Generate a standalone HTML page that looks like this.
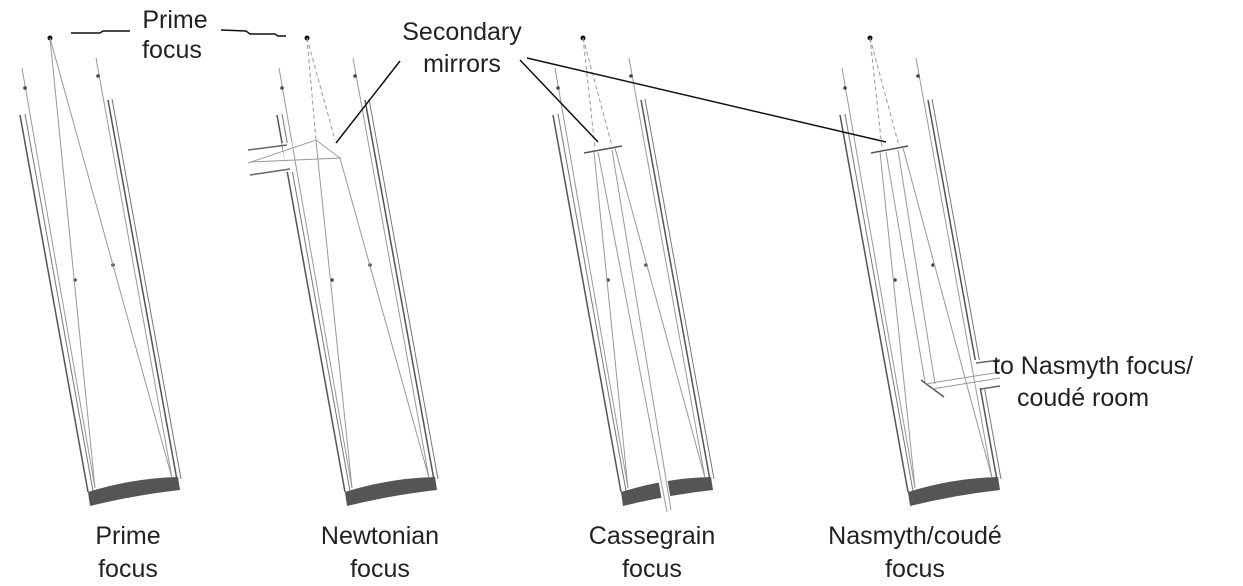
<!DOCTYPE html>
<html><head><meta charset="utf-8"><style>
html,body{margin:0;padding:0;background:#fff}
svg{display:block}
text{font-family:"Liberation Sans",sans-serif;font-size:25px;fill:#222}
</style></head><body>
<svg width="1243" height="586" viewBox="0 0 1243 586">
<defs>
<g id="tube">
  <line x1="20" y1="115" x2="88" y2="492" stroke="#555" stroke-width="1.5"/>
  <line x1="25" y1="114" x2="93" y2="491" stroke="#777" stroke-width="1"/>
  <line x1="108" y1="100" x2="177" y2="480" stroke="#555" stroke-width="1.5"/>
  <line x1="112" y1="99" x2="181" y2="479" stroke="#777" stroke-width="1"/>
  <line x1="22" y1="68" x2="95" y2="488" stroke="#999" stroke-width="1"/>
  <line x1="96" y1="58" x2="172" y2="478" stroke="#999" stroke-width="1"/>
  <circle cx="25" cy="88" r="1.8" fill="#444"/><circle cx="75" cy="280" r="1.8" fill="#444"/>
  <circle cx="98" cy="76" r="1.8" fill="#444"/><circle cx="113" cy="265" r="1.8" fill="#444"/>
  <path d="M88,492 Q133,478 178,477 L180,490 Q135,495 90,506 Z" fill="#555"/>
</g>
</defs>

<g>
  <use href="#tube"/>
  <circle cx="50" cy="38" r="2.5" fill="#111"/>
  <line x1="50" y1="38" x2="95" y2="488" stroke="#999"/>
  <line x1="50" y1="38" x2="172" y2="478" stroke="#999"/>
</g>

<g>
  <use href="#tube" transform="translate(257,0)"/>
  <polygon points="282,143 292,143 296,172 286,172" fill="#fff"/>
  <line x1="248" y1="150" x2="287" y2="145" stroke="#666" stroke-width="1.5"/>
  <line x1="250" y1="175" x2="290" y2="169" stroke="#666" stroke-width="1.5"/>
  <circle cx="307" cy="38" r="2.5" fill="#111"/>
  <line x1="307" y1="38" x2="316" y2="140" stroke="#999" stroke-dasharray="4,3"/>
  <line x1="307" y1="38" x2="335" y2="140" stroke="#999" stroke-dasharray="4,3"/>
  <polyline points="248,163 316,140 340,158 250,162" fill="none" stroke="#999"/>
  <line x1="352" y1="488" x2="316" y2="141" stroke="#999"/>
  <line x1="429" y1="478" x2="340" y2="158" stroke="#999"/>
</g>

<g>
  <use href="#tube" transform="translate(533,0)"/>
  <line x1="663" y1="480" x2="668" y2="510" stroke="#fff" stroke-width="9"/>
  <circle cx="583" cy="38" r="2.5" fill="#111"/>
  <line x1="583" y1="38" x2="595" y2="148" stroke="#999" stroke-dasharray="4,3"/>
  <line x1="583" y1="38" x2="612" y2="146" stroke="#999" stroke-dasharray="4,3"/>
  <line x1="584" y1="153" x2="622" y2="146" stroke="#555" stroke-width="1.5"/>
  <line x1="628" y1="488" x2="594" y2="152" stroke="#999"/>
  <line x1="705" y1="478" x2="615" y2="148" stroke="#999"/>
  <line x1="598" y1="152" x2="667" y2="512" stroke="#999"/>
  <line x1="612" y1="150" x2="671" y2="510" stroke="#999"/>
</g>

<g>
  <use href="#tube" transform="translate(820,0)"/>
  <polygon points="972,360 986,360 990,388 976,388" fill="#fff"/>
  <line x1="976" y1="363" x2="1000" y2="360" stroke="#666" stroke-width="1.5"/>
  <line x1="981" y1="389" x2="1000" y2="386" stroke="#666" stroke-width="1.5"/>
  <circle cx="870" cy="38" r="2.5" fill="#111"/>
  <line x1="870" y1="38" x2="882" y2="148" stroke="#999" stroke-dasharray="4,3"/>
  <line x1="870" y1="38" x2="899" y2="146" stroke="#999" stroke-dasharray="4,3"/>
  <line x1="871" y1="153" x2="908" y2="146" stroke="#555" stroke-width="1.5"/>
  <line x1="915" y1="488" x2="880" y2="152" stroke="#999"/>
  <line x1="992" y1="478" x2="903" y2="148" stroke="#999"/>
  <line x1="886" y1="152" x2="925" y2="382" stroke="#999"/>
  <line x1="898" y1="150" x2="935" y2="384" stroke="#999"/>
  <line x1="921" y1="380" x2="944" y2="397" stroke="#555" stroke-width="1.5"/>
  <line x1="925" y1="384" x2="1000" y2="372" stroke="#999"/>
  <line x1="932" y1="389" x2="1000" y2="378" stroke="#999"/>
</g>

<g>
  <text x="175" y="28" text-anchor="middle">Prime</text>
  <text x="172" y="58" text-anchor="middle">focus</text>
  <polyline points="71,33 100,33 103,31 130,31" fill="none" stroke="#111" stroke-width="1.5"/>
  <polyline points="221,30 246,31 250,34 275,34 278,36 286,36" fill="none" stroke="#111" stroke-width="1.5"/>
</g>

<g>
  <text x="462" y="40" text-anchor="middle">Secondary</text>
  <text x="462" y="72" text-anchor="middle">mirrors</text>
  <line x1="400" y1="61" x2="336" y2="143" stroke="#111" stroke-width="1.5"/>
  <line x1="520" y1="60" x2="598" y2="142" stroke="#111" stroke-width="1.5"/>
  <line x1="527" y1="58" x2="886" y2="142" stroke="#111" stroke-width="1.5"/>
</g>

<g>
  <text x="993" y="374">to Nasmyth focus/</text>
  <text x="1017" y="406">coudé room</text>
</g>

<g>
  <text x="128" y="544" text-anchor="middle">Prime</text>
  <text x="128" y="577" text-anchor="middle">focus</text>
  <text x="380" y="544" text-anchor="middle">Newtonian</text>
  <text x="380" y="577" text-anchor="middle">focus</text>
  <text x="652" y="544" text-anchor="middle">Cassegrain</text>
  <text x="652" y="577" text-anchor="middle">focus</text>
  <text x="915" y="544" text-anchor="middle">Nasmyth/coudé</text>
  <text x="915" y="577" text-anchor="middle">focus</text>
</g>
</svg>
</body></html>
